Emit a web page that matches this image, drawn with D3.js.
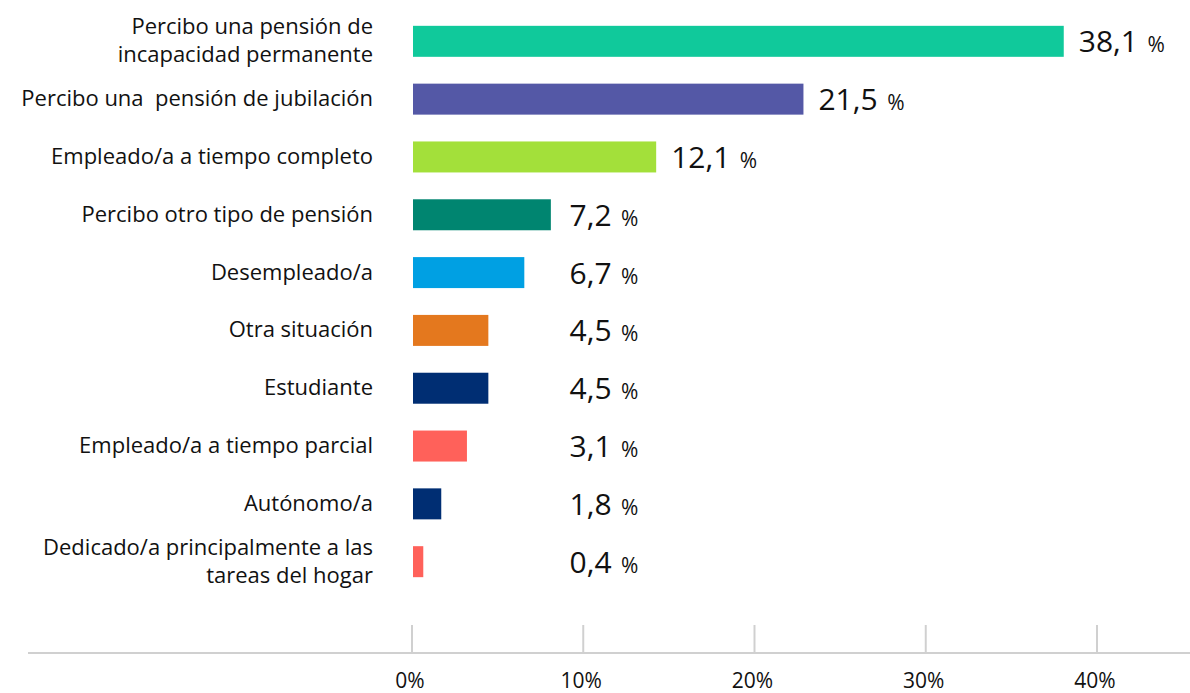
<!DOCTYPE html>
<html>
<head>
<meta charset="utf-8">
<script src="https://cdn.jsdelivr.net/npm/d3@7"></script>
<style>
  body { margin: 0; background: #fff; }
  svg { display: block; }
  text { white-space: pre; }
</style>
</head>
<body>
<svg id="chart" width="1190" height="693"></svg>
<script>
// DATA
const categories = [
  ["Percibo una pensión de", "incapacidad permanente"],
  ["Percibo una  pensión de jubilación"],
  ["Empleado/a a tiempo completo"],
  ["Percibo otro tipo de pensión"],
  ["Desempleado/a"],
  ["Otra situación"],
  ["Estudiante"],
  ["Empleado/a a tiempo parcial"],
  ["Autónomo/a"],
  ["Dedicado/a principalmente a las", "tareas del hogar"]
];
// bar lengths as drawn in the picture
const barValues = [38.0, 22.8, 14.2, 8.05, 6.5, 4.4, 4.4, 3.15, 1.65, 0.6];
// printed labels
const labelValues = ["38,1", "21,5", "12,1", "7,2", "6,7", "4,5", "4,5", "3,1", "1,8", "0,4"];
const colors = ["#10c99b", "#5458a6", "#a3e03a", "#008570", "#00a0e3",
                "#e4781e", "#002e73", "#ff615a", "#002e73", "#ff615a"];
const ticks = [0, 10, 20, 30, 40];

// CANVAS SETUP
const svg = d3.select("#chart");
const font = "'Open Sans', sans-serif";

const x = d3.scaleLinear().domain([0, 40]).range([412, 1097]);
const y = d3.scaleBand()
  .domain(d3.range(categories.length))
  .range([-1, 604])
  .padding(0.464);

const rows = categories.map((c, i) => ({
  i, lines: c, v: barValues[i], label: labelValues[i], color: colors[i]
}));

// AXIS
svg.append("line")
  .attr("x1", 28).attr("x2", 1190)
  .attr("y1", 653).attr("y2", 653)
  .attr("stroke", "#d0d0d0").attr("stroke-width", 2);

const tickG = svg.selectAll("g.tick")
  .data(ticks)
  .join("g")
  .attr("class", "tick")
  .attr("transform", (d) => `translate(${x(d)},0)`);

tickG.append("line")
  .attr("y1", 625).attr("y2", 653)
  .attr("stroke", "#d0d0d0").attr("stroke-width", 2);

tickG.append("text")
  .attr("x", -2)
  .attr("y", 688)
  .attr("text-anchor", "middle")
  .attr("font-family", font)
  .attr("font-size", 21)
  .attr("fill", "#111")
  .text((d) => d + "%");

// BARS
svg.selectAll("rect.bar")
  .data(rows)
  .join("rect")
  .attr("class", "bar")
  .attr("x", x(0) + 1)
  .attr("y", (d) => y(d.i))
  .attr("width", (d) => x(d.v) - x(0))
  .attr("height", y.bandwidth())
  .attr("fill", (d) => d.color);

// CATEGORY LABELS
const lineH = 28;
svg.selectAll("text.cat")
  .data(rows)
  .join("text")
  .attr("class", "cat")
  .attr("text-anchor", "end")
  .attr("font-family", font)
  .attr("font-size", 22)
  .attr("fill", "#111")
  .each(function (d) {
    const cy = y(d.i) + y.bandwidth() / 2;
    const y0 = cy + 7 - ((d.lines.length - 1) * lineH) / 2;
    d3.select(this).selectAll("tspan")
      .data(d.lines)
      .join("tspan")
      .attr("x", 373)
      .attr("y", (l, k) => y0 + k * lineH)
      .text((l) => l);
  });

// VALUE LABELS
const valueText = svg.selectAll("text.val")
  .data(rows)
  .join("text")
  .attr("class", "val")
  .attr("x", (d) => Math.max(x(d.v) + 16, x(9.2)))
  .attr("y", (d) => y(d.i) + y.bandwidth() / 2 + 11)
  .attr("font-family", font)
  .attr("fill", "#111");

valueText.append("tspan")
  .attr("font-size", 30)
  .text((d) => d.label);

valueText.append("tspan")
  .attr("font-size", 21)
  .attr("dx", 4)
  .text(" %");
</script>
</body>
</html>
